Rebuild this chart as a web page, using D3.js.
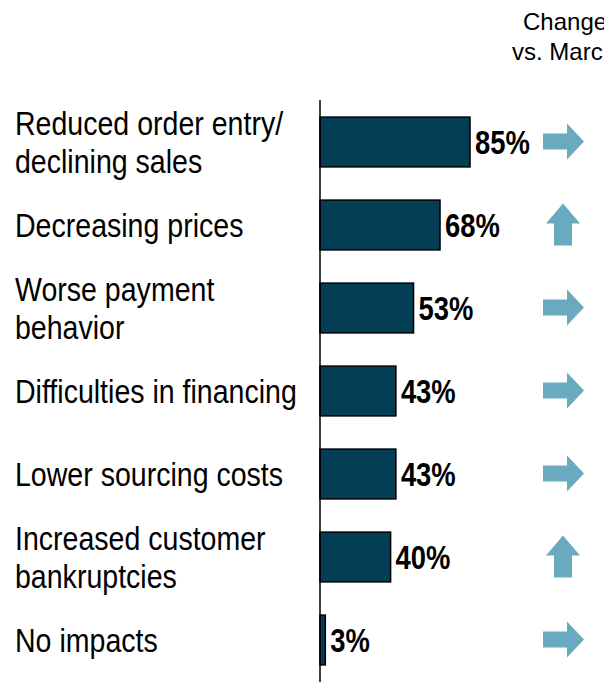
<!DOCTYPE html>
<html>
<head>
<meta charset="utf-8">
<script src="https://cdn.jsdelivr.net/npm/d3@7"></script>
<style>
  body { margin: 0; background: #fff; }
  svg { display: block; }
  text { font-family: "Liberation Sans Narrow", "Arial Narrow", "Liberation Sans", sans-serif; }
</style>
</head>
<body>
<div id="chart"></div>
<script>
// categories, split into the lines they are drawn on
var categories = ["Reduced order entry/ declining sales", "Decreasing prices", "Worse payment behavior",
    "Difficulties in financing", "Lower sourcing costs", "Increased customer bankruptcies", "No impacts"];
var labelLines = [["Reduced order entry/", "declining sales"], ["Decreasing prices"], ["Worse payment", "behavior"],
    ["Difficulties in financing"], ["Lower sourcing costs"], ["Increased customer", "bankruptcies"], ["No impacts"]];
var shares = [85, 68, 53, 43, 43, 40, 3];
// change vs. March: "right" = unchanged, "up" = increased
var changes = ["right", "up", "right", "right", "right", "up", "right"];
var headerLines = ["Change", "vs. March"];

var W = 604, H = 682;
// no narrow font here, so squeeze the regular one
var narrow = 0.84;

var svg = d3.select("#chart").append("svg")
    .attr("width", W)
    .attr("height", H);

var x = d3.scaleLinear()
    .domain([0, 100])
    .range([320, 496.5]);

var y = d3.scaleBand()
    .domain(categories)
    .range([100.5, 681.5])
    .paddingInner(0.4)
    .paddingOuter(0.2);

function mid(i) { return y(categories[i]) + y.bandwidth() / 2; }

// header, cut off at the right edge like the source
svg.append("g").selectAll("text")
    .data(headerLines)
    .enter()
    .append("text")
    .attr("x", function (d, i) { return i == 0 ? 523 : 512; })
    .attr("y", function (d, i) { return 30 + i * 30; })
    .attr("font-size", 24)
    .attr("fill", "#000")
    .text(function (d) { return d; });

// bars
svg.append("g").selectAll("rect")
    .data(shares)
    .enter()
    .append("rect")
    .attr("x", x(0))
    .attr("y", function (d, i) { return y(categories[i]); })
    .attr("width", function (d) { return x(d) - x(0); })
    .attr("height", y.bandwidth())
    .attr("fill", "#033d56")
    .attr("stroke", "#000")
    .attr("stroke-width", 1.5);

// axis line
svg.append("line")
    .attr("x1", x(0)).attr("x2", x(0))
    .attr("y1", 100).attr("y2", H)
    .attr("stroke", "#000")
    .attr("stroke-width", 1.5);

// value labels
svg.append("g").selectAll("text")
    .data(shares)
    .enter()
    .append("text")
    .attr("transform", function (d, i) {
        return "translate(" + (x(d) + 5) + "," + mid(i) + ") scale(0.83,1)";
    })
    .attr("dy", "0.36em")
    .attr("font-size", 33)
    .attr("font-weight", "bold")
    .attr("fill", "#000")
    .text(function (d) { return d + "%"; });

// category labels
var lineGap = 38;
var labels = svg.append("g").selectAll("text")
    .data(labelLines)
    .enter()
    .append("text")
    .attr("transform", function (d, i) {
        return "translate(15," + (mid(i) + 12 - (d.length - 1) * lineGap / 2) + ") scale(" + narrow + ",1)";
    })
    .attr("font-size", 34)
    .attr("fill", "#000");
labels.selectAll("tspan")
    .data(function (d) { return d; })
    .enter()
    .append("tspan")
    .attr("x", 0)
    .attr("y", function (d, i) { return i * lineGap; })
    .text(function (d) { return d; });

// change arrows
var rightArrow = "M-20,-8 L4,-8 L4,-18 L21,0 L4,18 L4,8 L-20,8 Z";
var upArrow = "M-9,21 L-9,-1 L-17,-1 L0,-21 L17,-1 L9,-1 L9,21 Z";
svg.append("g").selectAll("path")
    .data(changes)
    .enter()
    .append("path")
    .attr("transform", function (d, i) { return "translate(563," + (mid(i) - 0.5) + ")"; })
    .attr("d", function (d) { return d == "up" ? upArrow : rightArrow; })
    .attr("fill", "#6aaac0");
</script>
</body>
</html>
